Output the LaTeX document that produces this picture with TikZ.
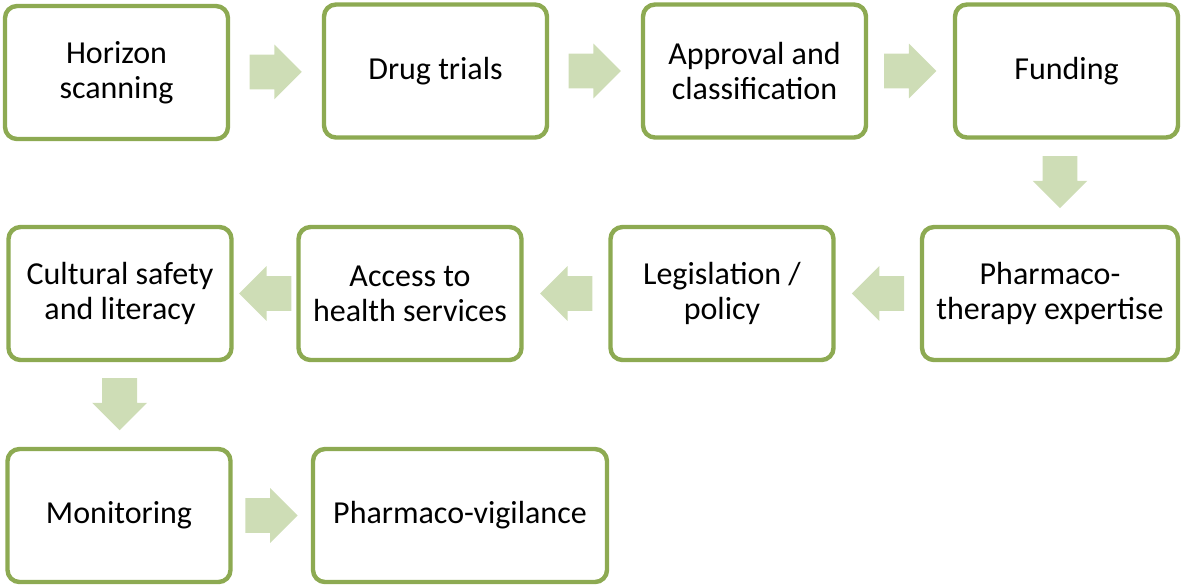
\documentclass[tikz,border=0pt]{standalone}
\usepackage{xcolor}
\usepackage{fontspec}
\setmainfont{Carlito}
\usepackage{tikz}
\usetikzlibrary{shapes.arrows,calc}

\definecolor{boxgreen}{HTML}{8DAA52}
\definecolor{arrowgreen}{HTML}{CEDDB6}

\tikzset{
	stagebox/.style={draw=boxgreen, line width=2.2pt, rounded corners=6pt, fill=white,
		minimum width=111.5pt, minimum height=66.5pt, align=center, inner sep=2pt,
		font=\fontsize{16}{17.5}\selectfont},
	blockarrow/.style={single arrow, fill=arrowgreen, draw=none, inner sep=8.5pt,
		minimum height=25pt, single arrow head extend=5pt,
		shape border rotate=#1},
	blockarrow/.default=0
}

\begin{document}
\begin{tikzpicture}[x=0.5pt,y=-0.5pt]
	\useasboundingbox (0,0) rectangle (1182,586);

	% first row
	\node[stagebox] (hs) at (116.5,72.5) {Horizon\\scanning};
	\node[stagebox] (dt) at (435.5,71) {Drug trials};
	\node[stagebox] (ap) at (754.5,71) {Approval and\\classification};
	\node[stagebox] (fu) at (1066.5,71) {Funding};

	% second row
	\node[stagebox] (cs) at (120,293.5) {Cultural safety\\and literacy};
	\node[stagebox] (ac) at (410,293.5) {Access to\\health services};
	\node[stagebox] (le) at (722,293.5) {Legislation /\\policy};
	\node[stagebox, minimum width=128pt] (pt) at (1050,293.5) {Pharmaco-\\therapy expertise};

	% third row
	\node[stagebox] (mo) at (119,515.5) {Monitoring};
	\node[stagebox, minimum width=147pt] (pv) at (460,515.5) {Pharmaco-vigilance};

	% arrows (shape centre sits near the head, so pull back 4.5pt)
	\node[blockarrow] (a1) at ($(hs.east)!0.5!(dt.west)!4.5pt!(hs.east)$) {};
	\node[blockarrow] (a2) at ($(dt.east)!0.5!(ap.west)!4.5pt!(dt.east)$) {};
	\node[blockarrow] (a3) at ($(ap.east)!0.5!(fu.west)!4.5pt!(ap.east)$) {};
	\node[blockarrow=270] (a4) at ($(fu.south)!0.5!(pt.north)!4.5pt!(fu.south)$) {};
	\node[blockarrow=180] (a5) at ($(pt.west)!0.5!(le.east)!4.5pt!(pt.west)$) {};
	\node[blockarrow=180] (a6) at ($(le.west)!0.5!(ac.east)!4.5pt!(le.west)$) {};
	\node[blockarrow=180] (a7) at ($(ac.west)!0.5!(cs.east)!4.5pt!(ac.west)$) {};
	\node[blockarrow=270] (a8) at ($(cs.south)!0.5!(mo.north)!4.5pt!(cs.south)$) {};
	\node[blockarrow] (a9) at ($(mo.east)!0.5!(pv.west)!4.5pt!(mo.east)$) {};
\end{tikzpicture}
\end{document}
